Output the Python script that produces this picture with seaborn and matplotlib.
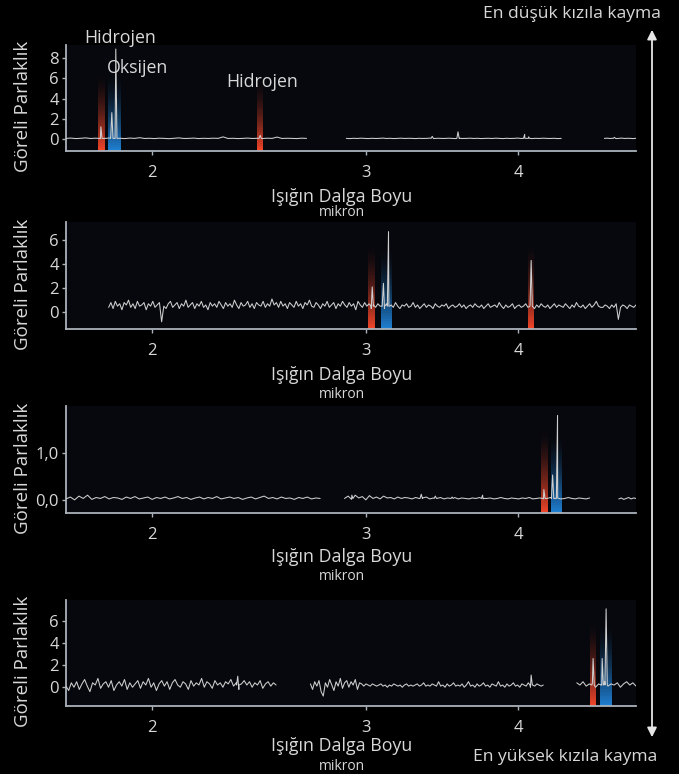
import numpy as np
import pandas as pd
import matplotlib.pyplot as plt
import seaborn as sns
from matplotlib.patches import FancyArrowPatch
from matplotlib.ticker import NullLocator

# ---- data (wavelength in micron, relative brightness) ----
# panel 1: lowest redshift
p1_segments = [(1.70, 2.68), (2.89, 4.34), (4.71, 5.0)]
p1_seg_a = [0.05, 0.08, 0.03, 0.06, 0.1, 0.04, 0.07, 0.02, 0.05, 0.09, 0.04, 0.06, 0.03, 0.08, 0.05,
            0.12, 0.04, 0.06, 0.03, 0.07, 0.05, 0.02, 0.06, 0.1, 0.04, 0.05, 0.08, 0.03, 0.06, 0.04,
            0.07, 0.05, 0.2, 0.04, 0.06, 0.03, 0.05, 0.08, 0.04, 0.06, 0.03, 0.07, 0.05, 0.18, 0.04,
            0.06, 0.05, 0.03, 0.07, 0.05]
p1_seg_b = [0.05, 0.03, 0.06, 0.04, 0.07, 0.05, 0.03, 0.06, 0.04, 0.05, 0.08, 0.04, 0.06, 0.03, 0.05,
            0.07, 0.04, 0.06, 0.05, 0.03, 0.06, 0.04, 0.05, 0.08, 0.03, 0.06, 0.05, 0.04, 0.07, 0.05,
            0.03, 0.06, 0.04, 0.05, 0.07, 0.04, 0.06, 0.03, 0.05, 0.06, 0.04, 0.07, 0.05, 0.03, 0.06,
            0.04, 0.05, 0.08, 0.04, 0.06, 0.05, 0.03, 0.06, 0.04, 0.07, 0.05, 0.04, 0.06, 0.03, 0.05]
p1_seg_c = [0.05, 0.07, 0.04, 0.06, 0.03, 0.05, 0.08, 0.04, 0.06, 0.05, 0.03, 0.06]
p1_peaks = [(1.816, 1.2), (1.854, 2.6), (1.868, 8.9), (2.455, 0.35), (3.40, 0.25),
            (3.57, 0.7), (4.05, 0.45), (4.08, 0.2), (4.80, 0.15)]
p1_bands = [(1.806, 1.829, 6.4, 'H'), (1.840, 1.886, 6.5, 'O'), (2.44, 2.47, 5.8, 'H')]

# panel 2
p2_segments = [(1.843, 5.0)]
p2_seg_a = [0.4, 0.8, 0.3, 0.9, 0.5, 0.7, 0.2, 0.8, 0.6, 1.0, 0.4, 0.7,
            0.3, 0.9, 0.5, 0.6, 0.8, 0.2, 0.7, 0.5, 0.9, 0.4, 0.6, 0.8,
            -0.8, 0.5, 0.3, 0.7, 0.9, 0.4, 0.6, 0.8, 0.3, 0.7, 0.5, 1.0,
            0.4, 0.6, 0.8, 0.3, 0.7, 0.5, 0.9, 0.4, 0.6, 0.2, 0.8, 0.5,
            0.7, 0.4, 0.9, 0.6, 0.3, 0.8, 0.5, 0.7, 0.4, 1.0, 0.6, 0.3,
            0.8, 0.5, 0.6, 0.9, 0.4, 0.7, 0.3, 0.8, 0.6, 0.5, 0.9, 0.4,
            0.7, 0.5, 1.1, 0.6, 0.8, 0.4, 0.9, 0.5, 0.7, 0.3, 0.8, 0.6,
            0.4, 0.9, 0.5, 0.7, 0.3, 0.8, 0.6, 1.0, 0.5, 0.4, 0.8, 0.6,
            0.3, 0.7, 0.5, 0.9, 0.4, 0.6, 0.8, 0.3, 0.7, 0.5, 0.9, 0.6,
            0.4, 0.8, 0.5, 0.7, 0.2, 0.9, 0.6, 0.4, 0.8, 0.5, 0.7, 0.3,
            0.6, 0.4, 0.7, 0.5, 0.6, 0.3, 0.7, 0.5, 0.6, 0.4, 0.8, 0.5,
            0.3, 0.6, 0.5, 0.7, 0.4, 0.5, 0.8, 0.4, 0.6, 0.3, 0.5, 0.7,
            0.4, 0.6, 0.5, 0.3, 0.7, 0.5, 0.4, 0.6, 0.5, 0.7, 0.3, 0.5,
            0.6, 0.4, 0.5, 0.7, 0.4, 0.6, 0.3, 0.5, 0.6, 0.4, 0.7, 0.5,
            0.4, 0.6, 0.3, 0.5, 0.7, 0.4, 0.5, 0.6, 0.4, 0.8, 0.5, 0.3,
            0.6, 0.4, 0.5, 0.7, 0.3, 0.5, 0.6, 0.4, 0.5, 0.7, 0.4, 0.6,
            0.5, 0.3, 0.6, 0.4, 0.7, 0.5, 0.4, 0.6, 0.3, 0.5, 0.7, 0.4,
            0.6, 0.5, 0.4, 0.7, 0.5, 0.3, 0.6, 0.4, 0.8, 0.5, 0.4, 0.6,
            0.3, 0.5, 0.7, 0.4, 0.6, 0.9, 0.5, 0.4, 0.4, 0.6, 0.5, 0.3,
            0.6, 0.4, 0.7, -0.6, 0.4, 0.6, 0.5, 0.3, 0.6, 0.5, 0.4, 0.6]
p2_peaks = [(3.035, 2.1), (3.10, 2.4), (3.13, 6.7), (4.10, 4.3)]
p2_bands = [(3.01, 3.05, 5.6, 'H'), (3.086, 3.151, 5.3, 'O'), (4.076, 4.122, 5.6, 'H')]

# panel 3
p3_segments = [(1.70, 2.75), (2.88, 4.58), (4.84, 5.0)]
p3_seg_a = [0.02, 0.06, 0.0, 0.08, 0.03, 0.1, 0.01, 0.05, 0.03, 0.07, 0.02, 0.05, 0.04, 0.01, 0.06,
            0.03, 0.07, 0.02, 0.04, 0.06, 0.01, 0.05, 0.03, 0.06, 0.02, 0.04, 0.07, 0.03, 0.05, 0.01,
            0.04, 0.06, 0.02, 0.05, 0.03, 0.07, 0.02, 0.04, 0.06, 0.03, 0.05, 0.01, 0.04, 0.06, 0.02,
            0.05, 0.08, 0.03, 0.05, 0.02, 0.06, 0.03, 0.04, 0.01, 0.05, 0.03, 0.06, 0.02, 0.04, 0.03]
p3_seg_b = [0.03, 0.08, 0.01, 0.1, 0.04, 0.07, 0.0, 0.09, 0.03, 0.06, 0.02, 0.08, 0.04, 0.05, 0.02,
            0.06, 0.03, 0.05, 0.04, 0.02, 0.05, 0.03, 0.04, 0.06, 0.02, 0.04, 0.03, 0.05, 0.02, 0.04,
            0.03, 0.05, 0.02, 0.04, 0.03, 0.02, 0.04, 0.03, 0.05, 0.02, 0.03, 0.04, 0.02, 0.03, 0.05,
            0.03, 0.02, 0.04, 0.03, 0.02, 0.04, 0.03, 0.05, 0.02, 0.03, 0.04, 0.02, 0.03, 0.05, 0.03,
            0.04, 0.02, 0.03, 0.05, 0.03, 0.02, 0.04, 0.03, 0.02, 0.04]
p3_seg_c = [0.02, 0.04, 0.01, 0.03, 0.05, 0.02, 0.04, 0.03]
p3_peaks = [(2.92, 0.1), (3.33, 0.12), (3.42, 0.08), (3.53, 0.06), (3.74, 0.1),
            (4.20, 0.22), (4.27, 0.53), (4.31, 1.8)]
p3_bands = [(4.18, 4.23, 1.5, 'H'), (4.257, 4.347, 1.4, 'O')]

# panel 4: highest redshift
p4_segments = [(1.70, 2.53), (2.70, 4.195), (4.47, 5.0)]
p4_seg_a = [0.1, -0.3, 0.4, 0.0, 0.5, -0.2, 0.3, 0.7, 0.1, -0.4, 0.4, 0.2, 0.8, -0.1, 0.3, 0.5, 0.0,
            0.6, -0.3, 0.2, 0.5, 0.1, 0.7, -0.2, 0.4, 0.0, 0.3, 0.6, -0.1, 0.5, 0.2, 0.8, 0.0, 0.4,
            -0.3, 0.3, 0.6, 0.1, 0.5, -0.2, 0.4, 0.7, 0.2, 0.0, 0.5, 0.3, -0.2, 0.6, 0.1, 0.4, 0.2,
            0.8, 0.0, 0.5, 0.3, -0.1, 0.6, 0.2, 0.4, 0.0, 0.5, 0.3, 0.7, 0.1, 0.4, -0.2, 0.3, 0.6,
            0.2, 0.5, 0.0, 0.4, 0.2, 0.6, -0.1, 0.3, 0.5, 0.1, 0.4, 0.2]
p4_seg_b = [0.3, -0.2, 0.5, 0.1, 0.6, -0.4, -0.8, 0.4, 0.0, 0.7, 0.2, -0.3, 0.5, 0.1, 0.8, -0.1, 0.4,
            0.6, 0.0, 0.5, 0.2, 0.7, -0.2, 0.4, 0.3, 0.1, 0.3, 0.2, 0.1, 0.3, 0.2, 0.1, 0.2, 0.3,
            0.1, 0.2, 0.0, 0.2, 0.1, 0.3, 0.2, 0.1, 0.2, 0.0, 0.2, 0.3, 0.1, 0.2, 0.1, 0.2, 0.3,
            0.1, 0.2, 0.4, 0.1, 0.2, 0.1, 0.3, 0.2, 0.1, 0.5, 0.1, 0.2, 0.0, 0.3, 0.1, 0.2, 0.4,
            0.1, 0.2, 0.1, 0.3, 0.0, 0.2, 0.5, 0.1, 0.2, 0.0, 0.3, 0.1, 0.2, 0.4, 0.1, 0.2, 0.0,
            0.3, 0.2, 0.1, 0.5, 0.1, 0.2, 0.0, 0.3, 0.1, 0.2, 0.4, 0.1, 0.2, 0.0, 0.3, 0.2, 0.1,
            0.4, 0.0, 0.2, 0.1, 0.3, 0.2, 0.1, 0.2]
p4_seg_c = [0.4, 0.2, 0.5, 0.1, 0.3, 0.4, 0.0, 0.3, 0.2, 0.5, 0.1, 0.3, 0.2, 0.4, 0.0, 0.3, 0.5, 0.2,
            0.4, 0.1]
p4_peaks = [(2.353, 1.0), (4.10, 1.1), (4.61, 2.6), (4.69, 2.6), (4.725, 7.1)]
p4_bands = [(4.585, 4.637, 5.9, 'H'), (4.67, 4.78, 5.8, 'O')]

panels = [
    dict(segs=p1_segments, vals=[p1_seg_a, p1_seg_b, p1_seg_c], peaks=p1_peaks, bands=p1_bands,
         base=0.05, ylim=(-1.2, 9.3), yticks=[0, 2, 4, 6, 8], ylabels=['0', '2', '4', '6', '8'],
         box=(45, 151)),
    dict(segs=p2_segments, vals=[p2_seg_a], peaks=p2_peaks, bands=p2_bands,
         base=0.5, ylim=(-1.4, 7.5), yticks=[0, 2, 4, 6], ylabels=['0', '2', '4', '6'],
         box=(222, 329)),
    dict(segs=p3_segments, vals=[p3_seg_a, p3_seg_b, p3_seg_c], peaks=p3_peaks, bands=p3_bands,
         base=0.03, ylim=(-0.28, 2.0), yticks=[0, 1], ylabels=['0,0', '1,0'],
         box=(406, 513)),
    dict(segs=p4_segments, vals=[p4_seg_a, p4_seg_b, p4_seg_c], peaks=p4_peaks, bands=p4_bands,
         base=0.2, ylim=(-1.7, 7.9), yticks=[0, 2, 4, 6], ylabels=['0', '2', '4', '6'],
         box=(600, 706)),
]
xlabel_y = [(197, 213), (375, 394), (557, 577), (746, 766)]

band_colors = {'H': '#f2462a', 'O': '#1f80d2'}
W, H = 679, 774

sns.set_theme(style='dark')
plt.rcParams['font.family'] = ['Open Sans', 'DejaVu Sans']
txt = '#d8d8d8'
spine = '#aab2ba'

fig = plt.figure(figsize=(W / 100, H / 100), dpi=100, facecolor='black')


def fx(x):
    return x / W


def fy(y):
    return 1 - y / H


for i, p in enumerate(panels):
    top, bot = p['box']
    ax = fig.add_axes([fx(66), fy(bot), fx(636) - fx(66), (bot - top) / H])
    ax.set_facecolor('#07080d')
    ax.set_xscale('log')

    # gradient emission bands
    ymin = p['ylim'][0]
    for x0, x1, ytop, kind in p['bands']:
        n = 40
        edges = np.linspace(ymin, ytop, n + 1)
        for k in range(n):
            t = k / n
            a = (1 - t) ** 1.6
            ax.fill_between([x0, x1], edges[k], edges[k + 1], color=band_colors[kind],
                            alpha=a, lw=0, zorder=1)

    rows = []
    for s, ((a, b), vals) in enumerate(zip(p['segs'], p['vals'])):
        xs = np.geomspace(a, b, len(vals))
        rows += [(x, y, s) for x, y in zip(xs, vals)]
    for w, h in p['peaks']:
        s = [j for j, (a, b) in enumerate(p['segs']) if a <= w <= b][0]
        rows += [(w / 1.0022, p['base'], s), (w, h, s), (w * 1.0022, p['base'], s)]
    df = pd.DataFrame(rows, columns=['micron', 'flux', 'seg'])
    sns.lineplot(data=df, x='micron', y='flux', units='seg', estimator=None,
                 color='#cfcfcf', lw=0.75, ax=ax, zorder=3)

    ax.set_xlim(1.70, 5.0)
    ax.set_ylim(*p['ylim'])
    ax.set_xticks([2, 3, 4])
    ax.set_xticklabels(['2', '3', '4'])
    ax.xaxis.set_minor_locator(NullLocator())
    ax.set_yticks(p['yticks'])
    ax.set_yticklabels(p['ylabels'])
    ax.tick_params(axis='both', colors=spine, labelcolor=txt, labelsize=12,
                   length=3, width=1, direction='out', left=True, bottom=True)
    ax.tick_params(axis='x', pad=7)
    ax.tick_params(axis='y', pad=2)
    ax.grid(False)
    for side in ['top', 'right']:
        ax.spines[side].set_visible(False)
    for side in ['left', 'bottom']:
        ax.spines[side].set_visible(True)
        ax.spines[side].set_color(spine)
        ax.spines[side].set_linewidth(1.3)
    ax.set_xlabel('')
    ax.set_ylabel('Göreli Parlaklık', color=txt, fontsize=13.5)
    ax.yaxis.set_label_coords(-0.06, 0.42)

    ly, my = xlabel_y[i]
    fig.text(fx(342), fy(ly), 'Işığın Dalga Boyu', color=txt, fontsize=12.8, ha='center', va='center')
    fig.text(fx(342), fy(my), 'mikron', color=txt, fontsize=10, ha='center', va='center')

# line labels in the first panel
fig.text(fx(120), fy(38), 'Hidrojen', color=txt, fontsize=12.8, ha='center', va='center')
fig.text(fx(138), fy(68), 'Oksijen', color=txt, fontsize=12.8, ha='center', va='center')
fig.text(fx(262), fy(82), 'Hidrojen', color=txt, fontsize=12.8, ha='center', va='center')

# redshift arrow on the right
fig.add_artist(FancyArrowPatch((fx(652), fy(740)), (fx(652), fy(27)), transform=fig.transFigure,
                               arrowstyle='<|-|>', mutation_scale=14, color='#e6e6e6', lw=1.3))
fig.text(fx(661), fy(14), 'En düşük kızıla kayma', color=txt, fontsize=12.6, ha='right', va='center')
fig.text(fx(657), fy(757), 'En yüksek kızıla kayma', color=txt, fontsize=12.6, ha='right', va='center')

fig.savefig('out.png', dpi=100, facecolor='black')
